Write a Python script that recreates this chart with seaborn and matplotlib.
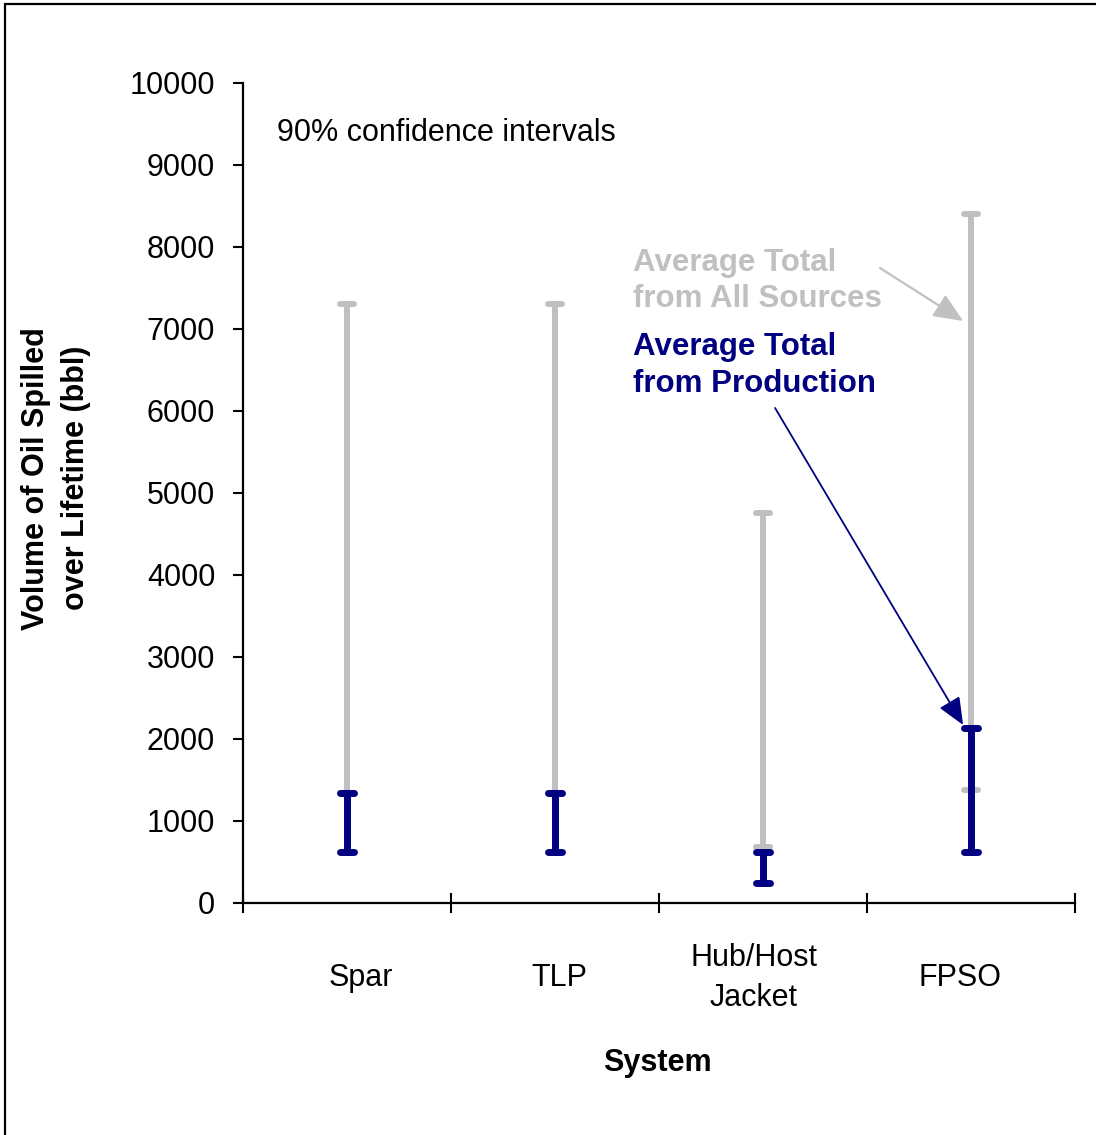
import matplotlib
matplotlib.use("Agg")
import matplotlib.pyplot as plt
from matplotlib.lines import Line2D
import seaborn as sns
import pandas as pd

# Spill volume ranges (bbl) per production system, 90% confidence intervals
systems = ["Spar", "TLP", "Hub/Host\nJacket", "FPSO"]
all_sources_low = [1340, 1340, 680, 1380]
all_sources_high = [7300, 7300, 4760, 8400]
production_low = [620, 620, 240, 620]
production_high = [1340, 1340, 620, 2140]

series_names = ["All Sources", "Production"]
colors = {"All Sources": "#C0C0C0", "Production": "#000080"}

rows = []
for i, s in enumerate(systems):
    for v in (all_sources_low[i], all_sources_high[i]):
        rows.append({"System": s, "Volume": v, "Series": "All Sources"})
    for v in (production_low[i], production_high[i]):
        rows.append({"System": s, "Volume": v, "Series": "Production"})
df = pd.DataFrame(rows)

sns.set_theme(style="white")
plt.rcParams["font.family"] = ["Liberation Sans", "DejaVu Sans"]
plt.rcParams.update({
    "text.color": "black",
    "axes.labelcolor": "black",
    "xtick.color": "black",
    "ytick.color": "black",
})

fig = plt.figure(figsize=(10.96, 11.35), dpi=100)
ax = fig.add_axes([243 / 1096, 1 - 903 / 1135, 832 / 1096, 820 / 1135])

for name, lw in (("All Sources", 4.3), ("Production", 5.0)):
    sns.pointplot(
        data=df[df["Series"] == name], x="System", y="Volume",
        order=systems, color=colors[name],
        errorbar=("pi", 100), capsize=0.07,
        markers="", linestyles="none",
        err_kws={"linewidth": lw, "solid_capstyle": "round"},
        ax=ax,
    )

ax.set_xlim(-0.5, 3.5)
ax.set_ylim(0, 10000)
ax.set_yticks(range(0, 10001, 1000))

# Category boundaries carry the tick marks; the names sit below the columns
ax.set_xticks([-0.5, 0.5, 1.5, 2.5, 3.5])
ax.set_xticklabels([])
ax.set_xticks([0.067, 1.019, 1.957, 2.947], minor=True)
ax.set_xticklabels(systems, minor=True, fontsize=22)
ax.tick_params(axis="x", which="major", direction="inout", length=14.4,
               width=1.5, color="black", bottom=True)
ax.tick_params(axis="x", which="minor", length=0, pad=54, bottom=True)
for lab in ax.get_xticklabels(minor=True):
    lab.set_va("center")
    lab.set_linespacing(1.45)
ax.tick_params(axis="y", direction="out", length=7, width=1.5,
               color="black", labelsize=22, pad=13, left=True)

for side in ("top", "right"):
    ax.spines[side].set_visible(False)
for side in ("left", "bottom"):
    ax.spines[side].set_color("black")
    ax.spines[side].set_linewidth(1.6)

ax.set_xlabel("System", fontsize=22, fontweight="bold", va="center")
ax.xaxis.set_label_coords(0.4976, -0.1952)
ax.set_ylabel("Volume of Oil Spilled\nover Lifetime (bbl)", fontsize=22,
              fontweight="bold", va="center", linespacing=1.4)
ax.yaxis.set_label_coords(-0.2248, 0.518)

ax.text(0.0409, 0.9574, "90% confidence intervals", transform=ax.transAxes,
        fontsize=22, ha="left", va="top")

ax.text(1.375, 7990, "Average Total\nfrom All Sources", fontsize=22.5,
        fontweight="bold", color="#C0C0C0", ha="left", va="top",
        linespacing=1.28)
ax.text(1.375, 6960, "Average Total\nfrom Production", fontsize=22.5,
        fontweight="bold", color="#000080", ha="left", va="top",
        linespacing=1.28)

ax.annotate("", xy=(2.962, 7098), xytext=(2.5625, 7744),
            arrowprops=dict(arrowstyle="-|>,head_length=1.5,head_width=0.65",
                            color="#C0C0C0", lw=1.6, shrinkA=0, shrinkB=0))
ax.annotate("", xy=(2.962, 2171), xytext=(2.058, 6037),
            arrowprops=dict(arrowstyle="-|>,head_length=1.4,head_width=0.6",
                            color="#000080", lw=1.3, shrinkA=0, shrinkB=0))

# Outer frame (left and top edges)
fig.add_artist(Line2D([5 / 1096, 5 / 1096], [0, 1 - 4 / 1135],
                      transform=fig.transFigure, color="black", lw=1.6))
fig.add_artist(Line2D([5 / 1096, 1], [1 - 4 / 1135, 1 - 4 / 1135],
                      transform=fig.transFigure, color="black", lw=1.6))

fig.savefig("out.png", dpi=100)
